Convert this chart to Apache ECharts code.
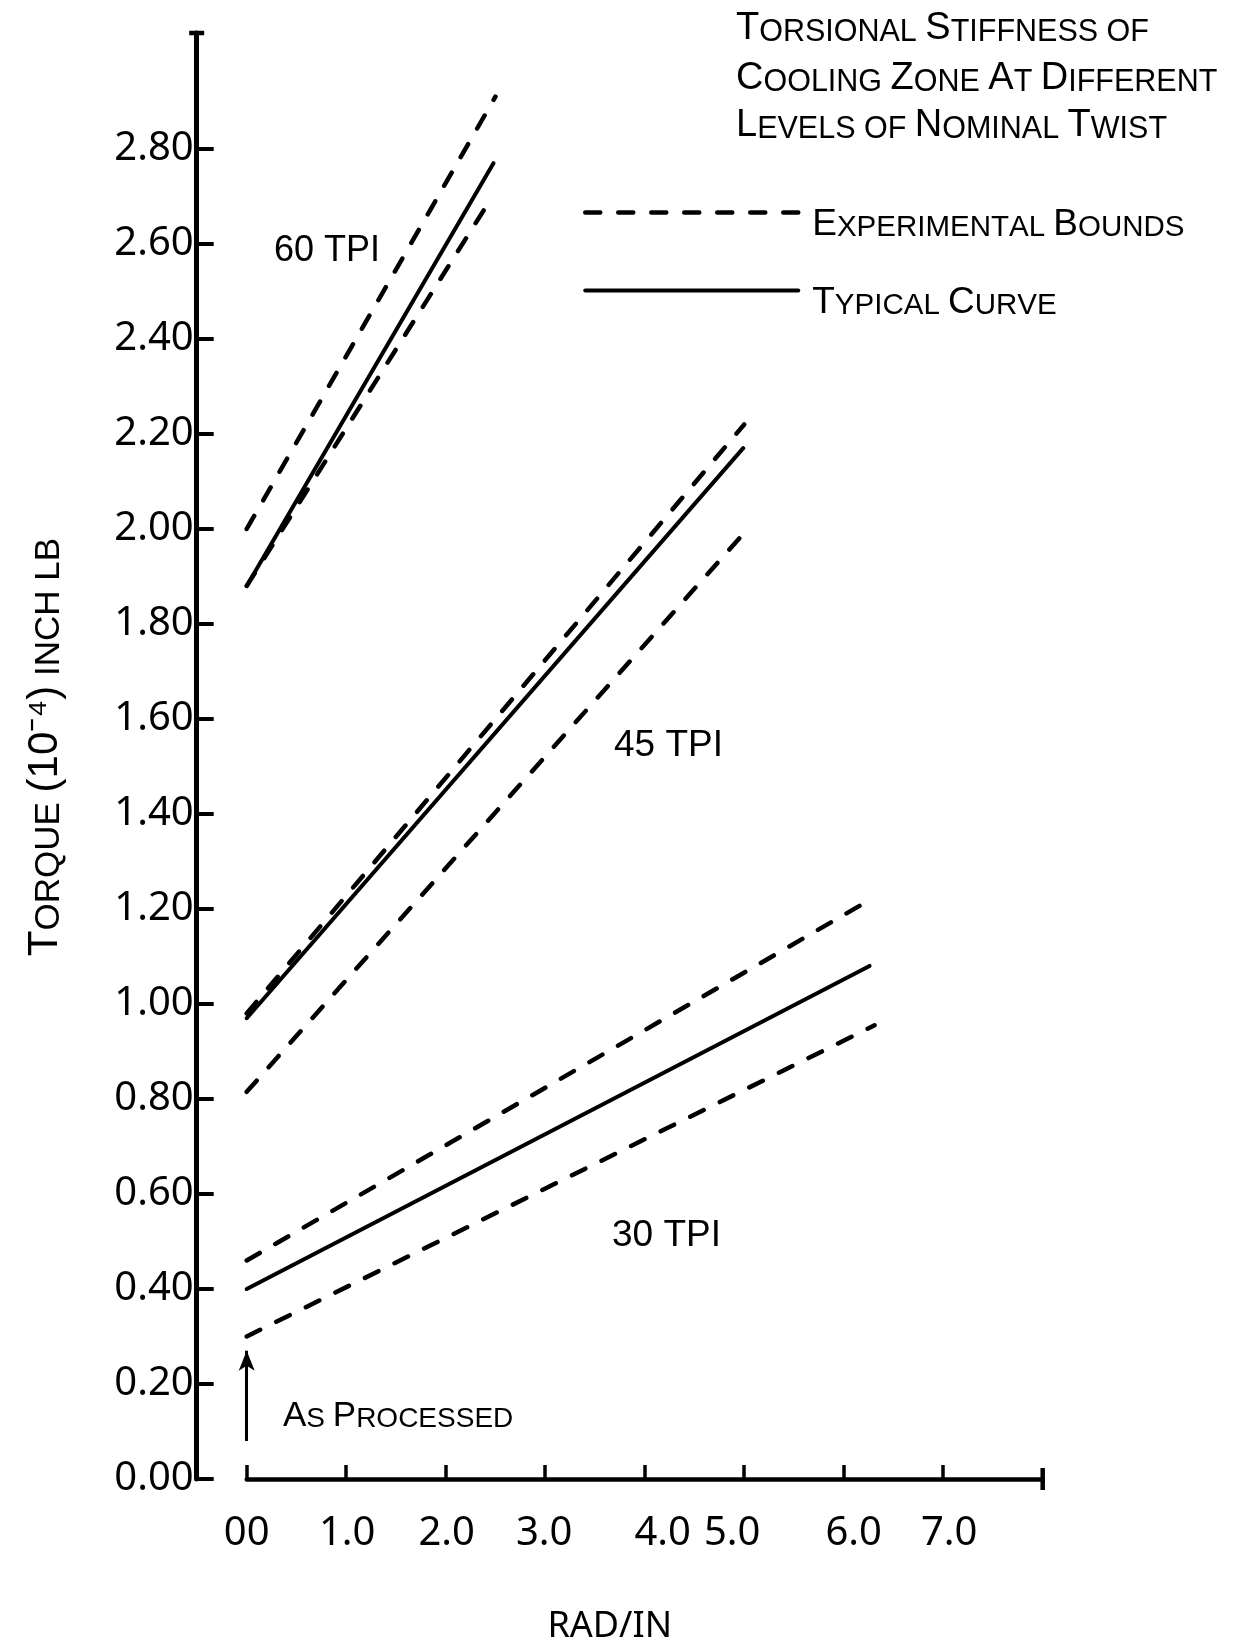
<!DOCTYPE html>
<html>
<head>
<meta charset="utf-8">
<script src="https://cdn.jsdelivr.net/npm/echarts@6/dist/echarts.min.js"></script>
<style>
  html, body { margin: 0; padding: 0; background: #fff; }
  #chart { width: 1236px; height: 1642px; }
</style>
</head>
<body>
<div id="chart"></div>
<script>
// ---- data ----
const xTickValues = [0, 1, 2, 3, 4, 5, 6, 7];
const xTickLabels = ['00', '1.0', '2.0', '3.0', '4.0', '5.0', '6.0', '7.0'];
const yTickValues = [0, 0.2, 0.4, 0.6, 0.8, 1.0, 1.2, 1.4, 1.6, 1.8, 2.0, 2.2, 2.4, 2.6, 2.8];
const yTickLabels = ['0.00', '0.20', '0.40', '0.60', '0.80', '1.00', '1.20', '1.40', '1.60', '1.80', '2.00', '2.20', '2.40', '2.60', '2.80'];

// 60 TPI
const upper60   = [[0, 2.00], [2.50, 2.91]];
const typical60 = [[0, 1.88], [2.48, 2.77]];
const lower60   = [[0, 1.88], [2.47, 2.70]];
// 45 TPI
const upper45   = [[0, 0.98], [5.00, 2.22]];
const typical45 = [[0, 0.97], [4.99, 2.17]];
const lower45   = [[0, 0.815], [4.95, 1.98]];
// 30 TPI
const upper30   = [[0, 0.46], [6.27, 1.22]];
const typical30 = [[0, 0.40], [6.26, 1.08]];
const lower30   = [[0, 0.30], [6.31, 0.955]];
// "As processed" arrow
const asProcessedArrow = [[0, 0.08], [0, 0.27]];

const titleLines = ['Torsional Stiffness of', 'Cooling Zone At Different', 'Levels of Nominal Twist'];
const boundsName = 'Experimental Bounds';
const typicalName = 'Typical Curve';
const groupLabels = ['60 TPI', '45 TPI', '30 TPI'];

// ---- styling ----
const FONT = '"Liberation Sans", Arial, sans-serif';
const NUMF = '"Noto Sans", "Liberation Sans", sans-serif';
const INK = '#000';
// hand-lettered x labels sit slightly off their ticks (pixel nudges; + = right)
const xLabelNudge = [0, 1, 1, -1, 18, -12, 10, 6];

function smallCaps(txt) {
  let out = '';
  for (const ch of txt) {
    if (ch >= 'A' && ch <= 'Z') out += '{b|' + ch + '}';
    else out += '{s|' + ch.toUpperCase() + '}';
  }
  return out;
}
function scRich(big, small) {
  return {
    b: { fontFamily: FONT, fontSize: big, color: INK, fill: INK, verticalAlign: 'bottom' },
    s: { fontFamily: FONT, fontSize: small, color: INK, fill: INK, verticalAlign: 'bottom' }
  };
}

const dashed = { color: INK, width: 4.5, type: [15, 18], cap: 'round' };
const solid = { color: INK, width: 4, type: 'solid', cap: 'round' };

function lineSeries(name, data, style) {
  return {
    name: name, type: 'line', data: data, symbol: 'none', showSymbol: false,
    lineStyle: style, itemStyle: { color: INK }, silent: true, animation: false,
    emphasis: { disabled: true }, z: 3
  };
}

const xRich = {};
xLabelNudge.forEach(function (n, i) {
  xRich['n' + i] = {
    fontFamily: NUMF, fontSize: 40, color: INK,
    padding: n >= 0 ? [0, 0, 0, 2 * n] : [0, -2 * n, 0, 0]
  };
});

const chart = echarts.init(document.getElementById('chart'), null, { renderer: 'canvas' });

const option = {
  backgroundColor: '#fff',
  animation: false,
  grid: { left: 246.7, right: 193.3, top: 33, bottom: 163, containLabel: false, outerBoundsMode: 'none' },
  legend: {
    data: [
      { name: boundsName, itemStyle: { opacity: 0 }, lineStyle: { color: INK, width: 4.5, type: [15, 18], cap: 'round' } },
      { name: typicalName, itemStyle: { opacity: 0 }, lineStyle: { color: INK, width: 4, type: 'solid', cap: 'round' } }
    ],
    orient: 'vertical',
    left: 578, top: 201,
    itemWidth: 213, itemHeight: 12, itemGap: 41,
    selectedMode: false,
    formatter: function (n) { return smallCaps(n); },
    textStyle: { padding: [24, 0, 0, 9], rich: scRich(37, 29.5) }
  },
  xAxis: {
    type: 'value', min: 0, max: 8,
    name: 'RAD/IN', nameLocation: 'middle', nameGap: 130,
    nameTextStyle: { fontFamily: NUMF, fontSize: 36, color: INK, padding: [0, 70, 0, 0] },
    axisLine: { show: true, onZero: false, lineStyle: { color: INK, width: 4.5 }, symbol: ['none', 'rect'], symbolSize: [22, 4.5] },
    axisTick: { show: true, inside: true, length: 14, lineStyle: { color: INK, width: 3.5 }, customValues: xTickValues },
    axisLabel: {
      show: true, margin: 35, fontFamily: NUMF, fontSize: 40, color: INK,
      customValues: xTickValues,
      rich: xRich,
      formatter: function (v) {
        const i = xTickValues.indexOf(Math.round(v));
        return i >= 0 ? '{n' + i + '|' + xTickLabels[i] + '}' : '';
      }
    },
    splitLine: { show: false }
  },
  yAxis: {
    type: 'value', min: 0, max: 3.044, offset: 50,
    name: '{b|T}{s|ORQUE }{b|(10⁻⁴)}{s| INCH LB}',
    nameLocation: 'middle', nameRotate: 90, nameGap: 130,
    nameTextStyle: { rich: scRich(42, 35), padding: [0, 0, 0, 18] },
    axisLine: { show: true, onZero: false, lineStyle: { color: INK, width: 5 }, symbol: ['none', 'rect'], symbolSize: [15, 4.5] },
    axisTick: { show: true, inside: true, length: 17, lineStyle: { color: INK, width: 4 }, customValues: yTickValues },
    axisLabel: {
      show: true, margin: 3, fontFamily: NUMF, fontSize: 40, color: INK,
      customValues: yTickValues,
      formatter: function (v) {
        let best = 0;
        yTickValues.forEach(function (t, i) { if (Math.abs(t - v) < Math.abs(yTickValues[best] - v)) best = i; });
        return yTickLabels[best];
      }
    },
    splitLine: { show: false }
  },
  graphic: [
    { type: 'text', x: 736, y: 29, silent: true, style: { text: smallCaps(titleLines[0]), rich: scRich(38, 30.5), verticalAlign: 'middle', align: 'left' } },
    { type: 'text', x: 736, y: 79, silent: true, style: { text: smallCaps(titleLines[1]), rich: scRich(38, 30.5), verticalAlign: 'middle', align: 'left' } },
    { type: 'text', x: 736, y: 126, silent: true, style: { text: smallCaps(titleLines[2]), rich: scRich(38, 30.5), verticalAlign: 'middle', align: 'left' } },
    { type: 'text', x: 274, y: 251, silent: true, style: { text: groupLabels[0], font: '36px ' + FONT, fill: INK, verticalAlign: 'middle', align: 'left' } },
    { type: 'text', x: 614, y: 746, silent: true, style: { text: groupLabels[1], font: '37px ' + FONT, fill: INK, verticalAlign: 'middle', align: 'left' } },
    { type: 'text', x: 612, y: 1236, silent: true, style: { text: groupLabels[2], font: '37px ' + FONT, fill: INK, verticalAlign: 'middle', align: 'left' } },
    { type: 'text', x: 283, y: 1416, silent: true, style: { text: smallCaps('As Processed'), rich: scRich(35, 28), verticalAlign: 'middle', align: 'left' } }
  ],
  series: [
    lineSeries(boundsName, upper60, dashed),
    lineSeries(typicalName, typical60, solid),
    lineSeries(boundsName, lower60, dashed),
    lineSeries(boundsName, upper45, dashed),
    lineSeries(typicalName, typical45, solid),
    lineSeries(boundsName, lower45, dashed),
    lineSeries(boundsName, upper30, dashed),
    lineSeries(typicalName, typical30, solid),
    lineSeries(boundsName, lower30, dashed),
    {
      name: 'arrow', type: 'line', data: [], silent: true, animation: false,
      markLine: {
        silent: true, animation: false, symbol: ['none', 'arrow'], symbolSize: [12, 20],
        label: { show: false },
        lineStyle: { color: INK, width: 3, type: 'solid' },
        emphasis: { disabled: true },
        data: [[{ coord: asProcessedArrow[0] }, { coord: asProcessedArrow[1] }]]
      }
    }
  ]
};
chart.setOption(option);
</script>
</body>
</html>
